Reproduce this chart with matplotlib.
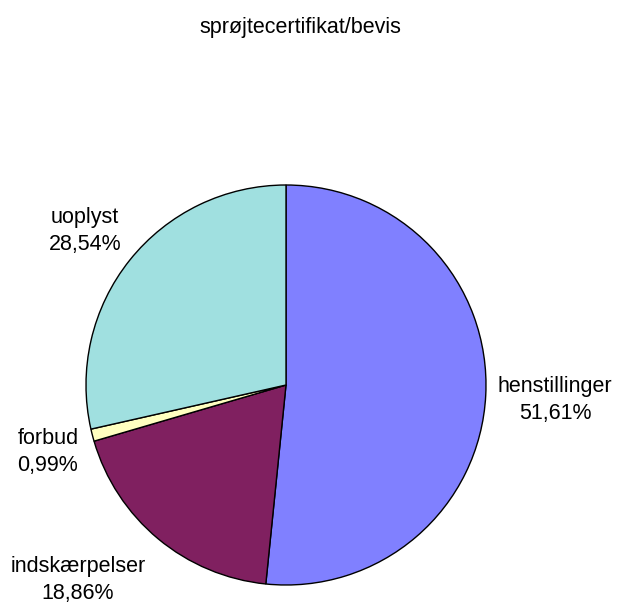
import matplotlib
matplotlib.use("Agg")
import matplotlib.pyplot as plt

plt.rcParams['font.family'] = ['Liberation Sans', 'DejaVu Sans']

labels = ['henstillinger', 'indskærpelser', 'forbud', 'uoplyst']
values = [51.61, 18.86, 0.99, 28.54]
colors = ['#8080FF', '#802060', '#FFFFC0', '#A0E0E0']
# label anchor points in pie units (radius 1)
label_pos = [(1.345, -0.075), (-1.04, -0.975), (-1.19, -0.335), (-1.005, 0.77)]

fig = plt.figure(figsize=(6.17, 6.05), dpi=100)
ax = fig.add_axes([86/617, 20/605, 400/617, 400/605])

wedges, _ = ax.pie(values, colors=colors, startangle=90, counterclock=False,
                   wedgeprops=dict(edgecolor='black', linewidth=1.0))

for lab, v, (x, y) in zip(labels, values, label_pos):
    txt = lab + '\n' + ('%.2f%%' % v).replace('.', ',')
    ax.text(x, y, txt, ha='center', va='center', fontsize=15.5,
            linespacing=1.4, clip_on=False)

ax.set_xlim(-1, 1)
ax.set_ylim(-1, 1)
ax.set_aspect('equal')

fig.text(300/617, 1 - 27/605, 'sprøjtecertifikat/bevis', ha='center', va='center', fontsize=15.5)

fig.savefig('out.png', dpi=100)
